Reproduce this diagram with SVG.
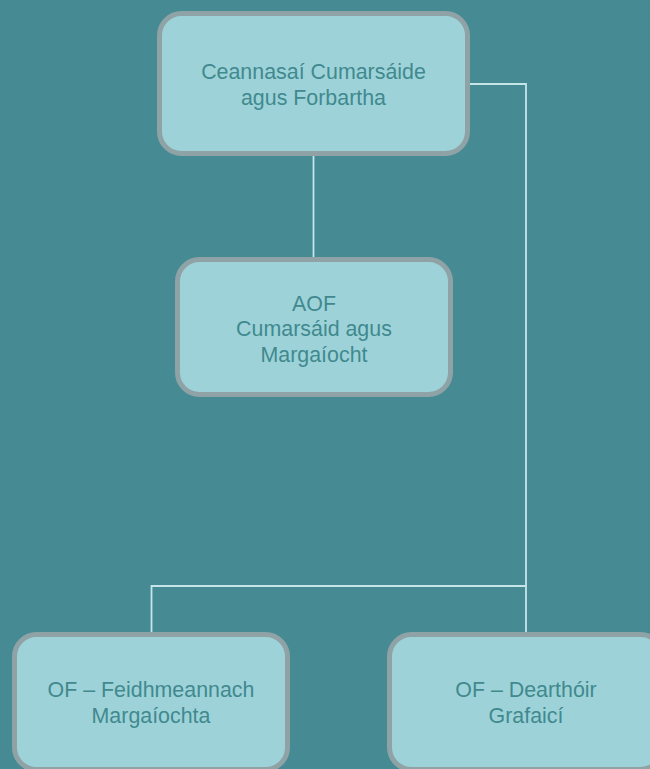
<svg xmlns="http://www.w3.org/2000/svg" width="650" height="769" viewBox="0 0 650 769">
  <style>
    .box { fill: #9dd3d8; stroke: #8fa3a6; stroke-width: 5; }
    .lbl { font-family: "Liberation Sans", Arial, sans-serif; font-size: 21.4px; fill: #41898f; text-anchor: middle; }
    .conn { fill: none; stroke: #c5e5e9; stroke-width: 1.8; }
  </style>
  <rect x="0" y="0" width="650" height="769" fill="#468a94"/>
  <g id="connectors">
    <path class="conn" d="M313.5 156 V258"/>
    <path class="conn" d="M470 84 H526 V633"/>
    <path class="conn" d="M526 586 H151.5 V633"/>
  </g>
  <g id="node-top">
    <rect class="box" x="159.5" y="13.5" width="308" height="140" rx="22"/>
    <text class="lbl" x="313.5" y="79">Ceannasaí Cumarsáide</text>
    <text class="lbl" x="313.5" y="105">agus Forbartha</text>
  </g>
  <g id="node-aof">
    <rect class="box" x="177.5" y="259.5" width="273" height="135" rx="22"/>
    <text class="lbl" x="314" y="310.5">AOF</text>
    <text class="lbl" x="314" y="336">Cumarsáid agus</text>
    <text class="lbl" x="314" y="361.5">Margaíocht</text>
  </g>
  <g id="node-feidhmeannach">
    <rect class="box" x="14.5" y="634.5" width="273" height="135" rx="22"/>
    <text class="lbl" x="151" y="697">OF – Feidhmeannach</text>
    <text class="lbl" x="151" y="723">Margaíochta</text>
  </g>
  <g id="node-dearthoir">
    <rect class="box" x="389.5" y="634.5" width="273" height="135" rx="22"/>
    <text class="lbl" x="526" y="697">OF – Dearthóir</text>
    <text class="lbl" x="526" y="723">Grafaicí</text>
  </g>
</svg>
